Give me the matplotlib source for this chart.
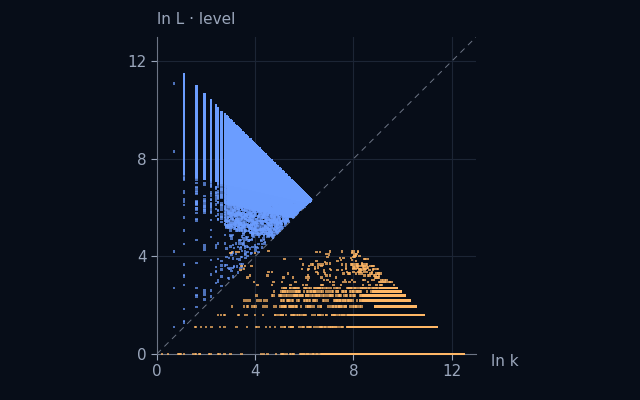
import numpy as np
import matplotlib
matplotlib.use("Agg")
import matplotlib.pyplot as plt

# ---- data description ----
log_product_limit = 12.6          # ln k + ln L <= limit
blue_isolated_k2_y = [11.1, 8.3, 4.2, 2.7, 1.1]
blue_column_k = [3, 5, 7, 9, 11, 12, 14]
orange_row_L = [1, 3, 5, 7, 9, 11, 13, 15]
orange_row_start_x = [0.0, 1.5, 2.5, 3.0, 3.5, 4.0, 4.5, 5.0]
orange_row_dense_x = [6.7, 7.8, 7.8, 8.9, 8.4, 8.4, 8.8, 9.1]
x_ticks = [0, 4, 8, 12]
y_ticks = [0, 4, 8, 12]

BG = "#070d18"
BLUE = "#6b9dff"
ORANGE = "#ffb766"
TXT = "#9aa6bb"
GRID = "#1c2535"

def h(a, b):
    v = np.sin(a * 12.9898 + b * 78.233) * 43758.5453
    return v - np.floor(v)

# blue points (above diagonal)
bx, by, ba = [], [], []
ks = list(blue_column_k) + list(range(16, 560, 1))
for k in ks:
    x = np.log(k)
    top = log_product_limit - x
    thr = 7.6 - 0.22 * x
    ys = np.arange(x + 0.05, top, 0.035)
    colw = min(1.0, 25.0 / k)
    for j, y in enumerate(ys):
        dep = thr - y
        if dep < 0:
            p = 1.0
        elif dep < 0.8:
            p = 0.6 * colw * 2.5
        elif dep < 1.8:
            p = 0.3 * colw * 1.5
        else:
            p = 0.07 * colw
        if k < 16 and dep > 0:
            p = 0.35 if dep < 1.5 else 0.07
        if h(k, j) < p:
            bx.append(x); by.append(y); ba.append(1.0 if dep < 0 else 0.7)
for y in blue_isolated_k2_y:
    bx.append(np.log(2)); by.append(y); ba.append(0.7)

# orange points (below diagonal)
ox, oy, oa = [], [], []
for L, xs0, xd in zip(orange_row_L, orange_row_start_x, orange_row_dense_x):
    y = np.log(L)
    end = log_product_limit - 0.1 - y
    xs = np.arange(xs0, end, 0.03)
    for j, x in enumerate(xs):
        p = 1.0 if x > xd else (0.4 if x > 5 else 0.12)
        if h(L * 31 + 7, j) < p:
            ox.append(x); oy.append(y); oa.append(1.0 if x > xd else 0.7)
for L in range(17, 70, 2):
    y = np.log(L)
    end = log_product_limit - 0.1 - y
    xs = np.arange(3.0, end, 0.05)
    for j, x in enumerate(xs):
        d = end - x
        if d < 1.0 and x > 7.8:
            p = 0.4
        elif x > 6:
            p = 0.12
        else:
            p = 0.025
        if y > 3.7:
            p *= 0.35
        if h(L * 13 + 3, j) < p:
            ox.append(x); oy.append(y); oa.append(0.75)

fig = plt.figure(figsize=(6.4, 4.0), dpi=100, facecolor=BG)
ax = fig.add_axes([0.245, 0.115, 0.499, 0.7925], facecolor=BG)
ax.set_xlim(0, 13); ax.set_ylim(0, 13)
ax.grid(True, color=GRID, lw=0.8)
ax.set_axisbelow(True)
ax.plot([0, 13], [0, 13], ls=(0, (6, 5)), color="#6d7585", lw=0.7, zorder=1)
bcol = np.array([matplotlib.colors.to_rgba(BLUE, a) for a in ba])
ocol = np.array([matplotlib.colors.to_rgba(ORANGE, a) for a in oa])
ax.scatter(bx, by, s=3, marker="s", c=bcol, linewidths=0, zorder=2)
ax.scatter(ox, oy, s=3, marker="s", c=ocol, linewidths=0, zorder=4, clip_on=False)
ax.set_xticks(x_ticks); ax.set_yticks(y_ticks)
for s in ["top", "right"]:
    ax.spines[s].set_visible(False)
for s in ["left", "bottom"]:
    ax.spines[s].set_color("#6d7585")
ax.tick_params(colors=TXT, labelsize=11, length=4)
fig.text(157/640, 1-20/400, "ln L · level", color=TXT, fontsize=11, va="center", ha="left")
fig.text(491/640, 1-362/400, "ln k", color=TXT, fontsize=11, va="center", ha="left")
fig.savefig("out.png", dpi=100, facecolor=BG)
